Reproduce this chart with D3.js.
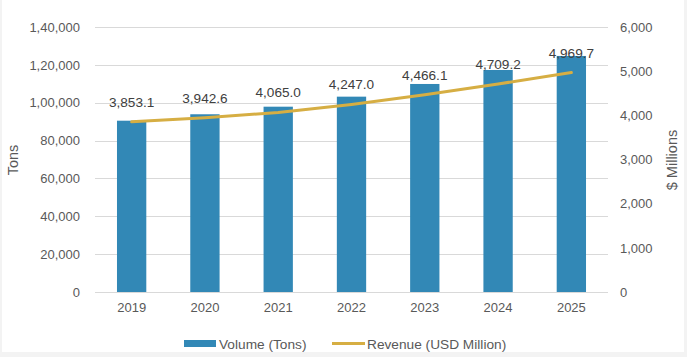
<!DOCTYPE html>
<html><head><meta charset="utf-8">
<script src="https://cdn.jsdelivr.net/npm/d3@7"></script>
<style>
html,body{margin:0;padding:0;background:#f3f3f3;}
svg{display:block;}
text{font-family:"Liberation Sans",Arial,sans-serif;}
</style></head>
<body>
<svg id="chart" width="687" height="357"></svg>
<script>
const years = ["2019","2020","2021","2022","2023","2024","2025"];
const volumeTons = [90500, 93900, 97900, 103200, 109900, 117300, 124700];
const revenueUSDMillion = [3853.1, 3942.6, 4065.0, 4247.0, 4466.1, 4709.2, 4969.7];
const leftTicks = [0, 20000, 40000, 60000, 80000, 100000, 120000, 140000];
const leftTickLabels = ["0","20,000","40,000","60,000","80,000","1,00,000","1,20,000","1,40,000"];
const rightTicks = [0, 1000, 2000, 3000, 4000, 5000, 6000];
const rightTickLabels = ["0","1,000","2,000","3,000","4,000","5,000","6,000"];
const seriesNames = ["Volume (Tons)", "Revenue (USD Million)"];

const svg = d3.select("#chart");
svg.append("rect").attr("x",2).attr("y",0).attr("width",682).attr("height",352).attr("fill","#ffffff");

const L = 95, R = 608, T = 27, B = 292;
const x = d3.scaleBand().domain(years).range([L,R]).paddingInner(0.6).paddingOuter(0.3);
const yL = d3.scaleLinear().domain([0,140000]).range([B,T]);
const yR = d3.scaleLinear().domain([0,6000]).range([B,T]);
const textCol = "#595959";
const blue = "#3288b6", gold = "#d6ae43";

// gridlines
svg.append("g").selectAll("line").data(leftTicks).join("line")
  .attr("x1",L).attr("x2",R)
  .attr("y1",d=>Math.round(yL(d))+0.5).attr("y2",d=>Math.round(yL(d))+0.5)
  .attr("stroke","#d9d9d9").attr("stroke-width",1);

// left axis
const axL = d3.axisLeft(yL).tickValues(leftTicks).tickSize(0).tickPadding(0)
  .tickFormat((d,i)=>leftTickLabels[i]);
const gL = svg.append("g").attr("transform",`translate(80,0)`).call(axL);
gL.select(".domain").remove();
gL.selectAll("text").attr("fill",textCol).style("font-size","13px");

// right axis
const axR = d3.axisRight(yR).tickValues(rightTicks).tickSize(0).tickPadding(0)
  .tickFormat((d,i)=>rightTickLabels[i]);
const gR = svg.append("g").attr("transform",`translate(620,0)`).call(axR);
gR.select(".domain").remove();
gR.selectAll("text").attr("fill",textCol).style("font-size","13px");

// x axis
const axX = d3.axisBottom(x).tickSize(0).tickPadding(0);
const gX = svg.append("g").attr("transform",`translate(0,${B+11})`).call(axX);
gX.select(".domain").remove();
gX.selectAll("text").attr("fill",textCol).style("font-size","13px");

// bars
svg.append("g").selectAll("rect").data(years).join("rect")
  .attr("x",d=>x(d)).attr("width",x.bandwidth())
  .attr("y",(d,i)=>yL(volumeTons[i])).attr("height",(d,i)=>B-yL(volumeTons[i]))
  .attr("fill",blue);

// line
const line = d3.line().x((d,i)=>x(years[i])+x.bandwidth()/2).y(d=>yR(d));
svg.append("path").datum(revenueUSDMillion).attr("d",line)
  .attr("fill","none").attr("stroke",gold).attr("stroke-width",3).attr("stroke-linecap","round");

// data labels
svg.append("g").selectAll("text").data(revenueUSDMillion).join("text")
  .attr("x",(d,i)=>x(years[i])+x.bandwidth()/2)
  .attr("y",d=>yR(d)-15)
  .attr("text-anchor","middle").attr("fill","#404040").style("font-size","13.6px")
  .text(d=>d3.format(",.1f")(d));

// axis titles
svg.append("text").attr("transform","translate(18,160) rotate(-90)")
  .attr("text-anchor","middle").attr("fill",textCol).style("font-size","14.5px").text("Tons");
svg.append("text").attr("transform","translate(677,160) rotate(-90)")
  .attr("text-anchor","middle").attr("fill",textCol).style("font-size","14.5px").text("$ Millions");

// legend
const lg = svg.append("g");
lg.append("rect").attr("x",184).attr("y",340).attr("width",32).attr("height",7).attr("fill",blue);
lg.append("text").attr("x",219).attr("y",348.5).attr("fill",textCol).style("font-size","13.7px").text(seriesNames[0]);
lg.append("line").attr("x1",332).attr("x2",365).attr("y1",343.5).attr("y2",343.5).attr("stroke",gold).attr("stroke-width",3);
lg.append("text").attr("x",367).attr("y",348.5).attr("fill",textCol).style("font-size","13.7px").text(seriesNames[1]);
</script>
</body></html>
